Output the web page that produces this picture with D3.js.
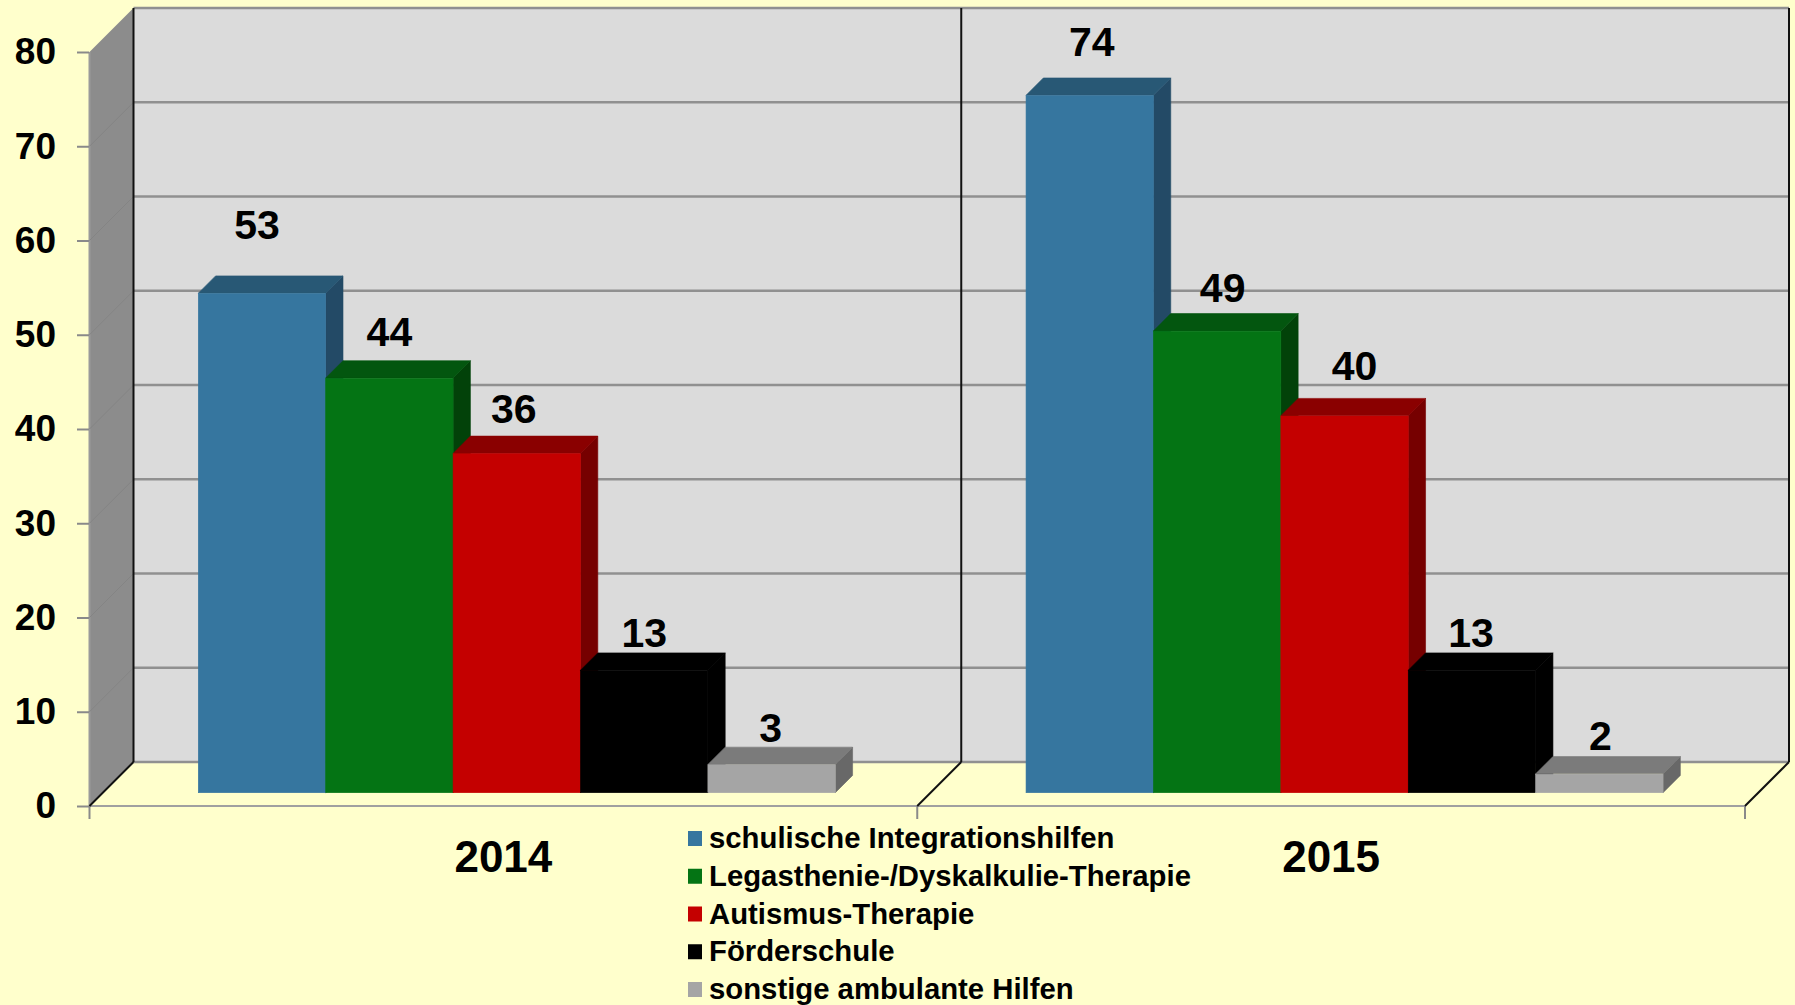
<!DOCTYPE html>
<html><head><meta charset="utf-8">
<script src="https://cdn.jsdelivr.net/npm/d3@7"></script>
<style>
html,body{margin:0;padding:0;background:#FFFFCC;overflow:hidden}
svg{display:block}
text{font-family:"Liberation Sans",Arial,sans-serif;font-weight:bold;fill:#000}
</style></head><body><svg id="c" width="1795" height="1005"></svg>
<script>
const years = ["2014","2015"];
const seriesNames = ["schulische Integrationshilfen","Legasthenie-/Dyskalkulie-Therapie","Autismus-Therapie","Förderschule","sonstige ambulante Hilfen"];
const values2014 = [53,44,36,13,3];
const values2015 = [74,49,40,13,2];
const yTicks = [0,10,20,30,40,50,60,70,80];
const frontColors = ["#36769F","#047414","#C40000","#000000","#A5A5A5"];
const topColors   = ["#285875","#03560F","#8A0000","#000000","#7B7B7B"];
const sideColors  = ["#234A66","#024209","#760000","#000000","#686868"];

const svg = d3.select("#c");
const valuesByYear = {"2014":values2014,"2015":values2015};
const y = d3.scaleLinear().domain([0,80]).range([806,52]);
const x0 = d3.scaleBand().domain(years).range([89.5,1745]);
const x1 = d3.scaleBand().domain(seriesNames).range([95.5,732.5]);
const D = 44, barOff = 13.3, barD = 17.3;
const gridCol = "#909090";
const left = x0.range()[0], right = x0.range()[1];
const pts = a => a.map(p=>p.join(",")).join(" ");

// back wall
svg.append("rect").attr("x",left+D).attr("y",y(80)-D).attr("width",right-left).attr("height",y(0)-y(80)).attr("fill","#DBDBDB");
// side wall
svg.append("polygon").attr("points",pts([[left,y(0)],[left+D,y(0)-D],[left+D,y(80)-D],[left,y(80)]])).attr("fill","#8C8C8C");
svg.append("line").attr("x1",left).attr("x2",left).attr("y1",y(0)).attr("y2",y(80)).attr("stroke","#9A9A9A").attr("stroke-width",2);
// gridlines
yTicks.forEach(t=>{
  svg.append("line").attr("x1",left+D).attr("x2",right+D).attr("y1",y(t)-D).attr("y2",y(t)-D).attr("stroke",gridCol).attr("stroke-width",2.4);
  if(t>0&&t<80) svg.append("line").attr("x1",left).attr("x2",left+D).attr("y1",y(t)).attr("y2",y(t)-D).attr("stroke","#848484").attr("stroke-width",1);
});
// bottom axis
const xAxisG = svg.append("g").attr("transform","translate(0,"+y(0)+")");
xAxisG.append("line").attr("x1",left).attr("x2",right).attr("stroke","#A0A0A0").attr("stroke-width",2);
[left,x0(years[1]),right].forEach(v=>{
  xAxisG.append("line").attr("x1",v).attr("x2",v).attr("y1",0).attr("y2",13).attr("stroke","#8A8A8A").attr("stroke-width",2);
  svg.append("line").attr("x1",v).attr("y1",y(0)).attr("x2",v+D).attr("y2",y(0)-D).attr("stroke","#111").attr("stroke-width",2);
  svg.append("line").attr("x1",v+D).attr("y1",y(0)-D).attr("x2",v+D).attr("y2",y(80)-D).attr("stroke","#111").attr("stroke-width",2);
});

// y axis
const yAxis = d3.axisLeft(y).tickValues(yTicks).tickSize(12).tickPadding(21);
const yG = svg.append("g").attr("transform","translate("+(left-0.5)+",0)").call(yAxis);
yG.select(".domain").remove();
yG.selectAll("line").attr("stroke","#8A8A8A").attr("stroke-width",2);
yG.selectAll("text").style("font-size","37px").attr("font-family",null).attr("fill","#000");

// bars
const labelNudge = {"2014":[[-5,-16],[0,6],[-3,8],[0,15],[-1,16]],"2015":[[2,-1],[5.5,9],[10,2.5],[-1,15],[1,14]]};
years.forEach(yr=>{
  const vals = valuesByYear[yr];
  seriesNames.forEach((s,i)=>{
    const v = vals[i];
    const fx = x0(yr)+x1(s)+barOff, w = x1.bandwidth();
    const by = y(0)-barOff, ty = y(v)-barOff;
    const g = svg.append("g");
    g.append("polygon").attr("points",pts([[fx+w,by],[fx+w+barD,by-barD],[fx+w+barD,ty-barD],[fx+w,ty]])).attr("fill",sideColors[i]).attr("stroke",sideColors[i]).attr("stroke-width",0.6);
    g.append("polygon").attr("points",pts([[fx,ty],[fx+barD,ty-barD],[fx+w+barD,ty-barD],[fx+w,ty]])).attr("fill",topColors[i]).attr("stroke",topColors[i]).attr("stroke-width",0.6);
    g.append("rect").attr("x",fx).attr("y",ty+0.3).attr("width",w).attr("height",by-ty-0.3).attr("fill",frontColors[i]).attr("stroke",frontColors[i]).attr("stroke-width",0.6);
    const n = labelNudge[yr][i];
    g.append("text").attr("x",fx+w/2+n[0]).attr("y",ty-38+n[1]).attr("text-anchor","middle").style("font-size","41px").text(v);
  });
  svg.append("text").attr("x",x0(yr)+x0.bandwidth()/2).attr("y",871.5).attr("text-anchor","middle").style("font-size","44px").text(yr);
});

// legend
const legY = d3.scalePoint().domain(seriesNames).range([838,989]);
seriesNames.forEach((s,i)=>{
  svg.append("rect").attr("x",688).attr("y",legY(s)-7).attr("width",14).attr("height",15).attr("fill",frontColors[i]);
  svg.append("text").attr("x",709).attr("y",legY(s)+10).style("font-size","29.3px").text(s);
});
</script></body></html>
